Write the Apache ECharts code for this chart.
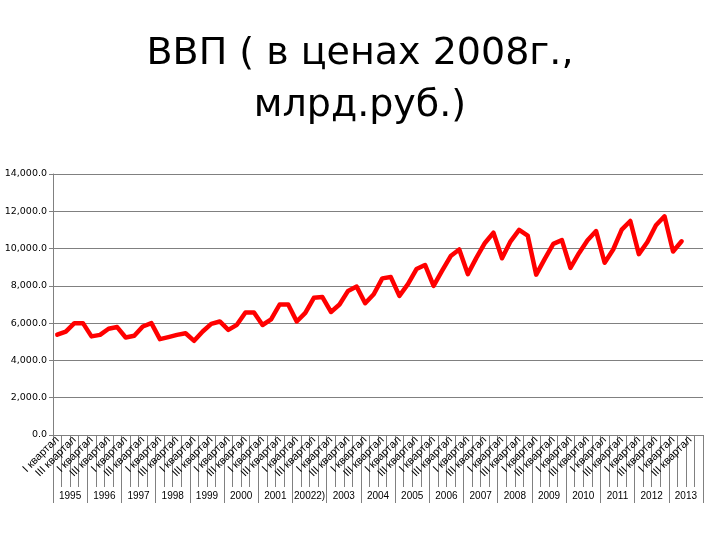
<!DOCTYPE html>
<html>
<head>
<meta charset="utf-8">
<script src="https://cdn.jsdelivr.net/npm/echarts@6/dist/echarts.min.js"></script>
<style>
html,body{margin:0;padding:0;background:#fff;}
#chart{width:720px;height:540px;}
</style>
</head>
<body>
<div id="chart"></div>
<script>
// Data
const years = ['1995','1996','1997','1998','1999','2000','2001','20022)','2003','2004','2005','2006','2007','2008','2009','2010','2011','2012','2013'];
const quarters = ['I квартал','II квартал','III квартал','IV квартал'];
const yTicks = [0, 2000, 4000, 6000, 8000, 10000, 12000, 14000];
const gdp = [
  5380, 5550, 6000, 6000,
  5290, 5370, 5700, 5790,
  5230, 5320, 5820, 6000,
  5140, 5250, 5370, 5460,
  5050, 5550, 5960, 6090,
  5640, 5910, 6570, 6570,
  5900, 6200, 7000, 7000,
  6090, 6550, 7360, 7400,
  6600, 7000, 7730, 7960,
  7070, 7550, 8400, 8470,
  7460, 8090, 8900, 9120,
  8000, 8820, 9600, 9950,
  8630, 9500, 10300, 10850,
  9480, 10390, 11000, 10700,
  8600, 9450, 10250, 10450,
  8960, 9750, 10450, 10940,
  9240, 9950, 11020, 11480,
  9700, 10350, 11250, 11730,
  9840, 10390, null, null
];

const categories = [];
years.forEach(function(){ quarters.forEach(function(q){ categories.push(q); }); });

const chart = echarts.init(document.getElementById('chart'));
const font = 'Liberation Sans, Arial, sans-serif';
chart.setOption({
  animation: false,
  backgroundColor: '#fff',
  title: {
    text: 'ВВП ( в ценах 2008г.,\nмлрд.руб.)',
    left: 'center',
    top: 23,
    textStyle: { fontFamily: 'DejaVu Sans, sans-serif', fontSize: 38, fontWeight: 'normal', color: '#000', lineHeight: 52 }
  },
  grid: { left: 53, right: 17, top: 174, bottom: 105, containLabel: false },
  xAxis: [
    {
      type: 'category',
      data: categories,
      boundaryGap: true,
      axisLine: { show: true, lineStyle: { color: '#808080', width: 1 } },
      axisTick: { show: true, interval: 0, length: 52, lineStyle: { color: '#808080' } },
      axisLabel: { interval: 1, rotate: 45, margin: 3, fontSize: 11, fontFamily: font, color: '#000' },
      splitLine: { show: false }
    },
    {
      type: 'category',
      data: years,
      position: 'bottom',
      offset: 0,
      boundaryGap: true,
      axisLine: { show: false },
      axisTick: { show: true, interval: 0, length: 68, lineStyle: { color: '#808080' } },
      axisLabel: { interval: 0, margin: 56, fontSize: 10, fontFamily: font, color: '#000' },
      splitLine: { show: false }
    }
  ],
  yAxis: {
    type: 'value',
    min: yTicks[0],
    max: yTicks[yTicks.length - 1],
    interval: 2000,
    axisLine: { show: true, lineStyle: { color: '#808080' } },
    axisTick: { show: true, length: 4, lineStyle: { color: '#808080' } },
    axisLabel: {
      fontSize: 9.5, fontFamily: 'DejaVu Sans, sans-serif', color: '#000', margin: 6,
      formatter: function(v){ return v.toLocaleString('en-US', {minimumFractionDigits: 1, maximumFractionDigits: 1}); }
    },
    splitLine: { show: true, lineStyle: { color: '#808080', width: 1 } }
  },
  series: [{
    type: 'line',
    xAxisIndex: 0,
    data: gdp,
    showSymbol: false,
    symbol: 'none',
    connectNulls: false,
    lineStyle: { color: '#ff0000', width: 4.5, join: 'round', cap: 'round' },
    itemStyle: { color: '#ff0000' }
  }]
});
</script>
</body>
</html>
